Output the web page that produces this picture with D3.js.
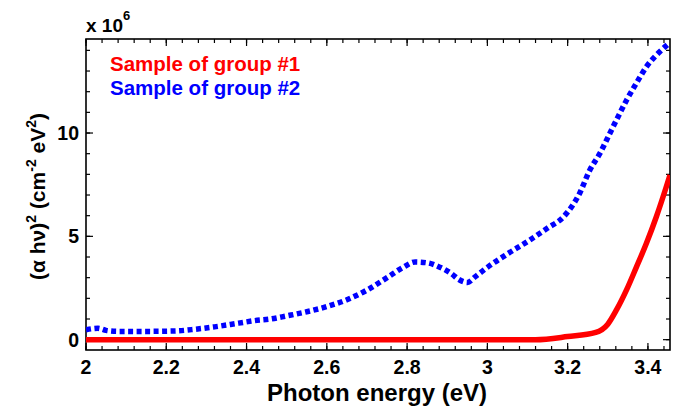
<!DOCTYPE html>
<html>
<head>
<meta charset="utf-8">
<script src="https://cdn.jsdelivr.net/npm/d3@7"></script>
<style>
  body { margin: 0; background: #fff; }
  text { font-family: "Liberation Sans", Arial, sans-serif; font-weight: bold; }
</style>
</head>
<body>
<div id="chart"></div>
<script>
// photon energy (eV) and (alpha h nu)^2 in units of 1e6
const energy1 = [2.0, 3.12, 3.2, 3.27, 3.3, 3.322, 3.347, 3.371, 3.396, 3.421, 3.445, 3.455]
const group1 = [0, 0, 0.15, 0.35, 0.75, 1.45, 2.42, 3.5, 4.65, 5.95, 7.35, 7.97]

const energy2 = [2.0, 2.03, 2.05, 2.08, 2.15, 2.22, 2.27, 2.32, 2.38, 2.42, 2.46, 2.5, 2.55, 2.6, 2.65, 2.7,
  2.75, 2.79, 2.82, 2.85, 2.88, 2.91, 2.93, 2.95, 2.97, 3.0, 3.05, 3.1, 3.15, 3.19, 3.23, 3.255,
  3.28, 3.305, 3.326, 3.347, 3.371, 3.396, 3.421, 3.45]
const group2 = [0.48, 0.55, 0.45, 0.4, 0.4, 0.42, 0.5, 0.62, 0.8, 0.92, 1.0, 1.15, 1.35, 1.6, 1.93, 2.4,
  3.0, 3.5, 3.76, 3.72, 3.52, 3.2, 2.9, 2.77, 3.05, 3.5, 4.15, 4.75, 5.4, 5.95, 7.09, 8.2,
  9.0, 9.98, 10.8, 11.6, 12.4, 13.2, 13.77, 14.3]

const xTicks = [2, 2.2, 2.4, 2.6, 2.8, 3, 3.2, 3.4]
const yTicks = [0, 5, 10]
const legendNames = ["Sample of group #1", "Sample of group #2"]

const width = 678, height = 406
const pLeft = 86, pRight = 670, pTop = 39, pBottom = 350

const svg = d3.select("#chart").append("svg")
  .attr("width", width)
  .attr("height", height)

const x = d3.scaleLinear().domain([2, 3.455]).range([pLeft, pRight])
const y = d3.scaleLinear().domain([-0.5, 14.55]).range([pBottom, pTop])

const xMinor = d3.range(2, 3.455, 0.04)
const yMinor = d3.range(0, 14.6, 1)

// ticks on all four sides, pointing in
function drawTicks(vals, len) {
  const g = svg.append("g").attr("stroke", "#000").attr("stroke-width", 1.2)
  vals.x.forEach(v => {
    g.append("line").attr("x1", x(v)).attr("x2", x(v)).attr("y1", pBottom).attr("y2", pBottom - len)
    g.append("line").attr("x1", x(v)).attr("x2", x(v)).attr("y1", pTop).attr("y2", pTop + len)
  })
  vals.y.forEach(v => {
    g.append("line").attr("y1", y(v)).attr("y2", y(v)).attr("x1", pLeft).attr("x2", pLeft + len)
    g.append("line").attr("y1", y(v)).attr("y2", y(v)).attr("x1", pRight).attr("x2", pRight - len)
  })
}
drawTicks({x: xMinor, y: yMinor}, 4)
drawTicks({x: xTicks, y: yTicks}, 7)

svg.append("rect")
  .attr("x", pLeft).attr("y", pTop)
  .attr("width", pRight - pLeft).attr("height", pBottom - pTop)
  .attr("fill", "none").attr("stroke", "#000").attr("stroke-width", 1.6)

// tick labels
svg.append("g").selectAll("text").data(xTicks).enter().append("text")
  .attr("x", d => x(d)).attr("y", 374)
  .attr("text-anchor", "middle").attr("font-size", 19.5)
  .text(d => d3.format("~g")(d))

svg.append("g").selectAll("text").data(yTicks).enter().append("text")
  .attr("x", 79).attr("y", d => y(d) + 7)
  .attr("text-anchor", "end").attr("font-size", 19.5)
  .text(d => d)

// curves
const line = d3.line()
  .x(d => x(d[0]))
  .y(d => y(d[1]))
  .curve(d3.curveMonotoneX)

const clip = svg.append("clipPath").attr("id", "plotclip")
clip.append("rect").attr("x", pLeft).attr("y", pTop).attr("width", pRight - pLeft).attr("height", pBottom - pTop)

svg.append("path")
  .datum(d3.zip(energy1, group1))
  .attr("d", line)
  .attr("clip-path", "url(#plotclip)")
  .attr("fill", "none")
  .attr("stroke", "#ff0000")
  .attr("stroke-width", 5.5)

svg.append("path")
  .datum(d3.zip(energy2, group2))
  .attr("d", line)
  .attr("clip-path", "url(#plotclip)")
  .attr("fill", "none")
  .attr("stroke", "#0000ff")
  .attr("stroke-width", 5.5)
  .attr("stroke-dasharray", "5,3.5")

// legend
const legendColors = ["#ff0000", "#0000ff"]
svg.append("g").selectAll("text").data(legendNames).enter().append("text")
  .attr("x", 110).attr("y", (d, i) => 71 + i * 23.5)
  .attr("font-size", 20.5)
  .attr("fill", (d, i) => legendColors[i])
  .text(d => d)

// multiplier
const mult = svg.append("text").attr("x", 86).attr("y", 32).attr("font-size", 19)
mult.append("tspan").text("x 10")
mult.append("tspan").attr("dy", -12).attr("font-size", 13).text("6")

// axis titles
svg.append("text")
  .attr("x", 377).attr("y", 401)
  .attr("text-anchor", "middle").attr("font-size", 24)
  .text("Photon energy (eV)")

const yt = svg.append("text")
  .attr("transform", `translate(45,${(pTop + pBottom) / 2 + 2}) rotate(-90)`)
  .attr("text-anchor", "middle").attr("font-size", 21)
yt.append("tspan").text("(\u03b1 h\u03bd)")
yt.append("tspan").attr("dy", -9).attr("font-size", 14).text("2")
yt.append("tspan").attr("dy", 9).text(" (cm")
yt.append("tspan").attr("dy", -9).attr("font-size", 14).text("-2")
yt.append("tspan").attr("dy", 9).text(" eV")
yt.append("tspan").attr("dy", -9).attr("font-size", 14).text("2")
yt.append("tspan").attr("dy", 9).text(")")
</script>
</body>
</html>
